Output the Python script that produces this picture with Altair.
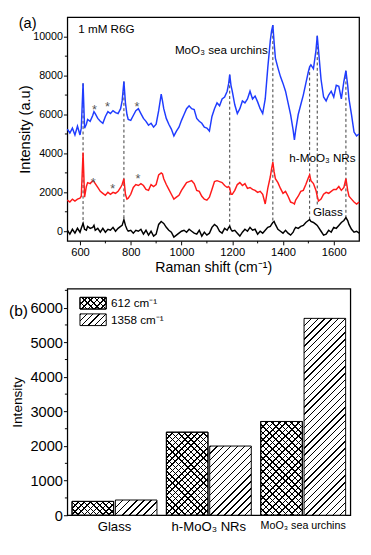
import math
import altair as alt
import pandas as pd

# ---------------- Panel (a): Raman spectra ----------------
SHIFT = [
    550, 560, 570, 580, 590, 600, 605, 612, 618, 625,
    630, 640, 650, 655, 660, 670, 680, 690, 700, 710,
    720, 730, 740, 750, 760, 766, 773, 779, 785, 790,
    800, 810, 820, 830, 840, 850, 860, 870, 880, 890,
    900, 910, 920, 925, 930, 940, 950, 960, 970, 980,
    990, 1000, 1010, 1020, 1030, 1040, 1050, 1060, 1070, 1080,
    1090, 1100, 1110, 1120, 1130, 1140, 1150, 1160, 1170, 1180,
    1186, 1190, 1195, 1200, 1210, 1220, 1230, 1240, 1250, 1260,
    1270, 1280, 1290, 1300, 1310, 1320, 1330, 1340, 1350, 1355,
    1360, 1365, 1370, 1380, 1390, 1400, 1410, 1420, 1430, 1440,
    1445, 1450, 1460, 1470, 1480, 1490, 1500, 1505, 1510, 1520,
    1530, 1535, 1540, 1550, 1560, 1570, 1580, 1590, 1600, 1610,
    1620, 1630, 1640, 1648, 1655, 1660, 1670, 1680, 1690, 1700,
]
BLUE = [
    5250, 5050, 5300, 4950, 5400, 4950, 5300, 7600, 5300, 5500,
    5750, 5650, 5950, 6150, 6050, 5800, 5650, 5550, 5900, 6150,
    6050, 6200, 6100, 6050, 6300, 6700, 7700, 6600, 6000, 5750,
    5700, 5950, 6200, 6300, 6050, 5800, 5650, 5450, 5550, 5350,
    5500, 6200, 7050, 6700, 6300, 5800, 5500, 5250, 4900, 5150,
    5350, 5700, 6000, 6300, 6450, 6300, 6250, 5800, 5650, 5550,
    5350, 5300, 5150, 5900, 6300, 6600, 6450, 6800, 6900, 7200,
    7600, 8050, 7500, 7200, 6500, 6050, 6300, 6700, 6600, 6800,
    7200, 6800, 6950, 6650, 6300, 6050, 6800, 8400, 9800, 10300,
    10600, 9700, 8900, 8400, 7950, 7600, 7200, 6600, 6000, 5200,
    4700, 5200, 6000, 6500, 7000, 7600, 8200, 8450, 8550, 8350,
    9300, 10050, 9300, 7800, 6900, 6700, 7000, 7200, 6900, 7500,
    7450, 6800, 7700, 8250, 7500, 6800, 6000, 5100, 4900, 5000,
]
RED = [
    1600, 1500, 1650, 1550, 1650, 1700, 1800, 4050, 1750, 2300,
    2500, 2450, 2600, 2550, 2450, 2250, 2050, 1950, 1850, 2000,
    1900, 2000, 1950, 2050, 2250, 2400, 2700, 1900, 1650, 1700,
    1900, 2250, 2400, 2350, 2450, 2350, 2150, 2100, 2400, 2300,
    2400, 2900, 3000, 2950, 2700, 2400, 2150, 1900, 1650, 1750,
    1850, 2100, 2300, 2500, 2550, 2600, 2450, 2100, 2050, 1800,
    1650, 1600, 1750, 2150, 2550, 2600, 2550, 2500, 2350, 2250,
    2300, 2200, 1900, 1900, 2100, 2400, 2500, 2350, 2450, 2200,
    2250, 2150, 2100, 2000, 2050, 1900, 1400, 2200, 2800, 3200,
    3550, 3050, 2700, 2500, 2200, 1950, 2050, 1800, 1500, 1450,
    1400, 1600, 1800, 2050, 2100, 2400, 2750, 2900, 2600, 2450,
    2100, 1800, 1550, 1650, 1900, 2000, 1950, 2050, 2150, 2150,
    2300, 2100, 2250, 2700, 2100, 1800, 1650, 1500, 1400, 1500,
]
BLACK = [
    50, -150, 100, -100, 150, -50, 150, 400, 100, 50,
    250, 150, 200, 300, 50, 150, -50, 150, -50, 100,
    50, 200, 0, 150, 250, 300, 600, 300, 100, 0,
    50, -100, 50, 0, 100, -150, 50, -200, 0, -250,
    -150, 350, 500, 450, 400, 200, 50, -50, -300, -200,
    -100, 0, 50, -50, 100, 0, -100, -150, 50, -250,
    -50, -200, -100, 200, 350, 250, 0, -100, 150, 50,
    200, 250, 100, 0, 50, -100, -250, -50, 100, 0,
    200, 50, 100, -150, 0, -100, 50, 200, 250, 350,
    450, 500, 350, 100, 0, -100, 50, -100, -200, -50,
    100, 200, 150, 250, 300, 450, 550, 600, 500, 450,
    350, 300, 200, 0, -200, -150, 50, -50, 200, 150,
    300, 450, 550, 700, 550, 350, 100, -50, 0, -100,
]
SPECTRA = ["MoO₃ sea urchins", "h-MoO₃ NRs", "Glass"]
LINE_COLORS = ["#1f3cff", "#ff1a1a", "#000000"]

PEAKS = [612, 773, 1190, 1360, 1505, 1535, 1648]
PEAK_TOP = [7600, 7700, 8050, 10600, 8450, 10050, 8250]
PEAK_BOTTOM = [350, 550, 200, 450, 550, 1300, 650]

NOTE_TEXT = ["1 mM R6G", "MoO₃ sea urchins", "h-MoO₃ NRs", "Glass"]
NOTE_X = [593, 974, 1425, 1518]
NOTE_Y = [10394, 9302, 3750, 997]

STAR_X = [657, 708, 824, 652, 729, 828]
STAR_Y = [6393, 6550, 6550, 2644, 2326, 2848]

XA_TICKS = [600, 800, 1000, 1200, 1400, 1600]
XA_MINOR = [700, 900, 1100, 1300, 1500]
YA_TICKS = [0, 2000, 4000, 6000, 8000, 10000]
YA_MINOR = [1000, 3000, 5000, 7000, 9000]

# ---------------- Panel (b): bar chart ----------------
SAMPLES = ["Glass", "h-MoO₃ NRs", "MoO₃ sea urchins"]
WAVES = ["612 cm⁻¹", "1358 cm⁻¹"]
I612 = [400, 2400, 2710]
I1358 = [440, 2000, 5690]
YB_TICKS = [0, 1000, 2000, 3000, 4000, 5000, 6000]
YB_MINOR = [500, 1500, 2500, 3500, 4500, 5500, 6500]

FONT = "Liberation Sans"
WA, HA = 300, 230
WB, HB = 291, 233
XA_DOM = [550, 1700]
YA_DOM = [-500, 11000]
YB_DOM = [0, 6550]


def hatch(w, h, period, lw, direction, ink="#000000", bg="#ffffff"):
    a = w * (w + h) / (w * w + h * h)
    n = max(1, round((w + h) / (period * math.sqrt(2))))
    f = lw / period
    stops = []
    for k in range(n):
        t0 = round(k / n, 5)
        t1 = round((k + f) / n, 5)
        t2 = round((k + 1) / n, 5)
        stops += [
            {"offset": t0, "color": ink},
            {"offset": t1, "color": ink},
            {"offset": t1, "color": bg},
            {"offset": t2, "color": bg},
        ]
    if direction == "/":
        c = dict(x1=0, y1=0, x2=a, y2=a * h / w)
    else:
        c = dict(x1=0, y1=1, x2=a, y2=1 - a * h / w)
    return {"gradient": "linear", "stops": stops, **c}


# ---- panel (a) ----
rows = []
for name, vals in zip(SPECTRA, [BLUE, RED, BLACK]):
    assert len(vals) == len(SHIFT)
    for s, v in zip(SHIFT, vals):
        rows.append({"shift": s, "intensity": v, "sample": name})
spec_df = pd.DataFrame(rows)
peak_df = pd.DataFrame({"shift": PEAKS, "intensity": PEAK_TOP, "bottom": PEAK_BOTTOM})
note_df = pd.DataFrame({"shift": NOTE_X, "intensity": NOTE_Y, "label": NOTE_TEXT})
star_df = pd.DataFrame({"shift": STAR_X, "intensity": STAR_Y})

axis_xa = alt.Axis(values=XA_TICKS, format="d", title="Raman shift (cm⁻¹)",
                   labelFontSize=11.5, titleFontSize=14.5, labelPadding=2,
                   titlePadding=3)
axis_ya = alt.Axis(values=YA_TICKS, format="d", title="Intensity (a.u)",
                   labelFontSize=11, titleFontSize=15, labelPadding=1,
                   titlePadding=0)
xa = alt.X("shift:Q", scale=alt.Scale(domain=XA_DOM, nice=False, zero=False), axis=axis_xa)
ya = alt.Y("intensity:Q", scale=alt.Scale(domain=YA_DOM, nice=False, zero=False), axis=axis_ya)

rules_a = alt.Chart(peak_df).mark_rule(color="#3a3a3a", strokeDash=[3, 2.5], strokeWidth=1).encode(
    x=xa, y=ya, y2="bottom:Q")
lines_a = alt.Chart(spec_df).mark_line(strokeWidth=1.5).encode(
    x=xa, y=ya,
    color=alt.Color("sample:N", scale=alt.Scale(domain=SPECTRA, range=LINE_COLORS), legend=None))
notes_a = alt.Chart(note_df).mark_text(align="left", baseline="middle", fontSize=12, color="black").encode(
    x=xa, y=ya, text="label:N")
stars_a = alt.Chart(star_df).mark_text(text="*", fontSize=13, color="#555555", baseline="middle", dy=3).encode(
    x=xa, y=ya)
minor_ya = alt.Chart(pd.DataFrame({"intensity": YA_MINOR})).mark_rule(color="black").encode(
    y=ya, x=alt.value(-2.5), x2=alt.value(0))
minor_xa = alt.Chart(pd.DataFrame({"shift": XA_MINOR})).mark_rule(color="black").encode(
    x=xa, y=alt.value(HA), y2=alt.value(HA + 2.5))
tag_a = alt.Chart(pd.DataFrame({"t": ["(a)"]})).mark_text(align="left", baseline="middle", fontSize=15).encode(
    x=alt.value(-50), y=alt.value(6.5), text="t:N")

panel_a = alt.layer(rules_a, lines_a, notes_a, stars_a, minor_ya, minor_xa, tag_a).properties(
    width=WA, height=HA)

# ---- panel (b) ----
bar_rows = []
k = 0
for s, v1, v2 in zip(SAMPLES, I612, I1358):
    bar_rows.append({"sample": s, "wave": WAVES[0], "value": v1, "key": k}); k += 1
    bar_rows.append({"sample": s, "wave": WAVES[1], "value": v2, "key": k}); k += 1
bars_df = pd.DataFrame(bar_rows)

axis_xb = alt.Axis(title=None, ticks=False, labelAngle=0, labelPadding=5,
                   labelFontSize={"condition": {"test": "datum.value === 'MoO₃ sea urchins'", "value": 11},
                                  "value": 13.5})
axis_yb = alt.Axis(values=YB_TICKS, format="d", title="Intensity", labelFontSize=15,
                   titleFontSize=14, labelPadding=1, titlePadding=6)
xb = alt.X("sample:N", sort=SAMPLES,
           scale=alt.Scale(domain=SAMPLES, paddingInner=0.1, paddingOuter=0.05), axis=axis_xb)
xob = alt.XOffset("wave:N", scale=alt.Scale(domain=WAVES, paddingInner=0.04, paddingOuter=0))
yb = alt.Y("value:Q", scale=alt.Scale(domain=YB_DOM, nice=False, zero=False), axis=axis_yb)

step = WB / (len(SAMPLES) - 0.1 + 2 * 0.05)
band = step * 0.9
bar_w = band / (2 - 0.04) * 0.96

layers_b = []
for r in bar_rows:
    h = r["value"] / YB_DOM[1] * HB
    base = alt.Chart(bars_df).transform_filter(alt.datum.key == r["key"])
    if r["wave"] == WAVES[0]:
        layers_b.append(base.mark_bar(fill=hatch(bar_w, h, 4.6, 1.1, "/"), stroke="black", strokeWidth=1)
                        .encode(x=xb, xOffset=xob, y=yb))
        layers_b.append(base.mark_bar(fill=hatch(bar_w, h, 4.6, 1.1, "\\", bg="rgba(255,255,255,0)"),
                                      stroke="black", strokeWidth=1)
                        .encode(x=xb, xOffset=xob, y=yb))
    else:
        layers_b.append(base.mark_bar(fill=hatch(bar_w, h, 5.0, 1.0, "/"), stroke="black", strokeWidth=1)
                        .encode(x=xb, xOffset=xob, y=yb))

minor_yb = alt.Chart(pd.DataFrame({"value": YB_MINOR})).mark_rule(color="black").encode(
    y=yb, x=alt.value(-2.5), x2=alt.value(0))

one = pd.DataFrame({"k": [0]})
sw_w, sw_h = 27, 12
sw1 = alt.Chart(one).mark_rect(fill=hatch(sw_w, sw_h, 4.6, 1.1, "/"), stroke="black", strokeWidth=1).encode(
    x=alt.value(13), x2=alt.value(13 + sw_w), y=alt.value(9), y2=alt.value(9 + sw_h))
sw1b = alt.Chart(one).mark_rect(fill=hatch(sw_w, sw_h, 4.6, 1.1, "\\", bg="rgba(255,255,255,0)"),
                                stroke="black", strokeWidth=1).encode(
    x=alt.value(13), x2=alt.value(13 + sw_w), y=alt.value(9), y2=alt.value(9 + sw_h))
sw2 = alt.Chart(one).mark_rect(fill=hatch(sw_w, sw_h, 5.0, 1.0, "/"), stroke="black", strokeWidth=1).encode(
    x=alt.value(13), x2=alt.value(13 + sw_w), y=alt.value(26), y2=alt.value(26 + sw_h))
leg_txt = alt.Chart(pd.DataFrame({"t": WAVES, "yy": [15, 32]})).mark_text(
    align="left", baseline="middle", fontSize=12).encode(
    x=alt.value(45), y=alt.Y("yy:Q", scale=None, axis=None), text="t:N")
tag_b = alt.Chart(pd.DataFrame({"t": ["(b)"]})).mark_text(align="left", baseline="middle", fontSize=16).encode(
    x=alt.value(-60), y=alt.value(23), text="t:N")

panel_b = alt.layer(*layers_b, minor_yb, sw1, sw1b, sw2, leg_txt, tag_b).properties(width=WB, height=HB)

chart = alt.concat(panel_a, panel_b, columns=1, spacing=13, align="none").properties(
    padding={"left": 0, "top": 0, "right": 0, "bottom": 0}
).configure(font=FONT).configure_view(
    stroke="black", strokeWidth=1.3
).configure_axis(
    grid=False, domain=False, tickColor="black", tickSize=4, tickWidth=1,
    labelColor="black", titleColor="black", titleFontWeight="normal",
    labelFont=FONT, titleFont=FONT
).configure_text(font=FONT)

chart.save("out.html", embed_options={"renderer": "svg", "actions": False})
